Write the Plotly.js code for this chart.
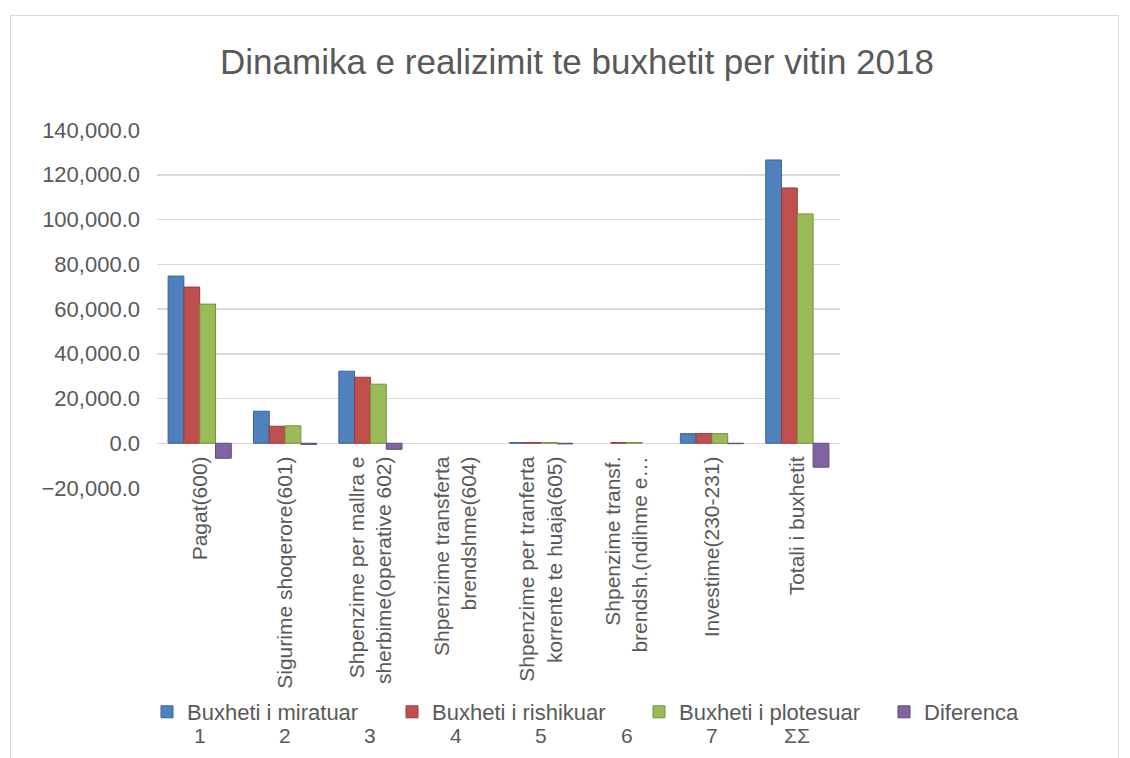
<!DOCTYPE html>
<html>
<head>
<meta charset="utf-8">
<script src="https://cdn.plot.ly/plotly-3.0.1.min.js"></script>
<style>
  body { margin: 0; background: #fff; }
  #chart { position: absolute; left: 0; top: 0; width: 1130px; height: 758px; }
  #frame { position: absolute; left: 10px; top: 15px; width: 1107px; height: 760px;
           border: 1px solid #d9d9d9; pointer-events: none; }
</style>
</head>
<body>
<div id="chart"></div>
<div id="frame"></div>
<script>
const categories = [
    "Pagat(600)",
    "Sigurime shoqerore(601)",
    "Shpenzime per mallra e<br>sherbime(operative 602)",
    "Shpenzime transferta<br>brendshme(604)",
    "Shpenzime per tranferta<br>korrente te huaja(605)",
    "Shpenzime transf.<br>brendsh.(ndihme e…",
    "Investime(230-231)",
    "Totali i buxhetit"
]
const subLabels = ["1", "2", "3", "4", "5", "6", "7", "ΣΣ"]

const miratuar = [74700, 14300, 32200, null, 300, null, 4300, 126600]
const rishikuar = [69800, 7600, 29500, null, 300, 300, 4300, 114100]
const plotesuar = [62200, 7800, 26400, null, 300, 300, 4300, 102500]
const diferenca = [-6700, -500, -2700, null, -300, null, -200, -10700]

const seriesNames = ["Buxheti i miratuar", "Buxheti i rishikuar", "Buxheti i plotesuar", "Diferenca"]
const seriesColors = ["#4F81BD", "#C0504D", "#9BBB59", "#8064A2"]
const seriesEdges = ["#3A6396", "#963C3A", "#77913F", "#5F4A7A"]
// two legend boxes so the four entries stay on one row
const seriesLegend = ["legend", "legend", "legend2", "legend2"]

const yMin = -20000
const yMax = 140000

const textColor = "#595959"
const font = "Liberation Sans, Arial, sans-serif"

const data = [miratuar, rishikuar, plotesuar, diferenca].map((vals, i) => ({
    type: 'bar',
    x: categories,
    y: vals,
    name: seriesNames[i],
    legend: seriesLegend[i],
    marker: {
        color: seriesColors[i],
        line: { color: seriesEdges[i], width: 1 }
    },
    hoverinfo: 'x+y+name'
}))

// second row of category labels (1 ... ΣΣ)
const annotations = categories.map((c, i) => ({
    x: c,
    xref: 'x',
    y: -0.69,
    yref: 'paper',
    yanchor: 'middle',
    text: subLabels[i],
    showarrow: false,
    font: { family: font, size: 21, color: textColor }
}))

function legendBox(xPx) {
    return {
        orientation: 'h',
        xref: 'container',
        yref: 'container',
        x: xPx / 1130,
        xanchor: 'left',
        y: 1 - 712 / 758,
        yanchor: 'middle',
        entrywidth: 200,
        entrywidthmode: 'pixels',
        font: { family: font, size: 22, color: textColor },
        bgcolor: 'rgba(0,0,0,0)'
    }
}

const layout = {
    width: 1130,
    height: 758,
    paper_bgcolor: '#ffffff',
    plot_bgcolor: '#ffffff',
    margin: { l: 157, r: 290, t: 130, b: 270 },
    title: {
        text: 'Dinamika e realizimit te buxhetit per vitin 2018',
        font: { family: font, size: 35, color: textColor },
        x: 577 / 1130,
        xanchor: 'center',
        y: 1 - 62 / 758,
        yanchor: 'middle'
    },
    barmode: 'group',
    bargap: 0.26,
    bargroupgap: 0,
    xaxis: {
        type: 'category',
        anchor: 'free',
        position: (0 - yMin) / (yMax - yMin),
        tickangle: -90,
        showline: false,
        showgrid: false,
        ticks: '',
        ticklabelstandoff: 8,
        tickfont: { family: font, size: 21, color: textColor }
    },
    yaxis: {
        range: [yMin, yMax],
        dtick: 20000,
        tickformat: ',.1f',
        showgrid: true,
        gridcolor: '#d9d9d9',
        gridwidth: 1.5,
        zeroline: false,
        showline: false,
        ticks: '',
        ticklabelstandoff: 16,
        tickfont: { family: font, size: 22, color: textColor }
    },
    showlegend: true,
    legend: legendBox(147),
    legend2: legendBox(639),
    annotations: annotations
}

document.addEventListener("DOMContentLoaded", () => {
    Plotly.newPlot('chart', data, layout, { displayModeBar: false, staticPlot: true })
})
</script>
</body>
</html>
